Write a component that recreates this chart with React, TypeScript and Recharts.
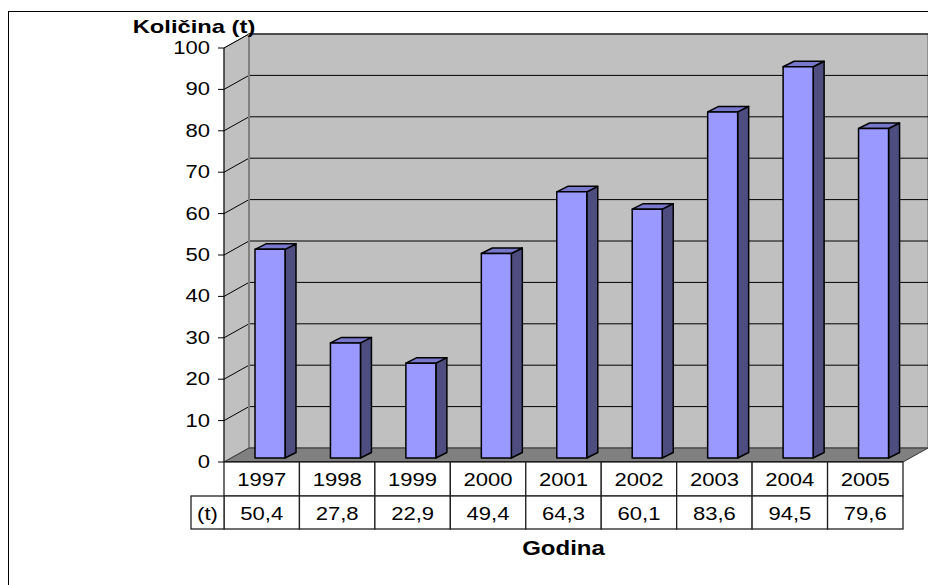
import React from 'react';
import { BarChart, Bar, XAxis, YAxis, ReferenceArea } from 'recharts';

const years = ['1997', '1998', '1999', '2000', '2001', '2002', '2003', '2004', '2005'];
const amounts = [50.4, 27.8, 22.9, 49.4, 64.3, 60.1, 83.6, 94.5, 79.6];
const yTicks = [0, 10, 20, 30, 40, 50, 60, 70, 80, 90, 100];

const data = years.map((year, i) => ({ year, amount: amounts[i] }));

const W = 928;
const H = 577;
const PLOT_W = 679;
const CELL_W = PLOT_W / years.length;
const DEPTH_X = 25;
const DEPTH_Y = -14;
const BAR_DX = 8;
const BAR_DY = -4;
const FONT = '"Liberation Sans", Arial, sans-serif';
const STRETCH = 1.26;

const fmt = (v: number) => v.toFixed(1).replace('.', ',');

// the original text is a horizontally stretched Arial
const SText = ({ x, y, anchor = 'middle', size = 17.5, bold = false, sx = STRETCH, children }: any) => (
  <text
    transform={`translate(${x},${y}) scale(${sx},1)`}
    x={0}
    y={0}
    textAnchor={anchor}
    fontFamily={FONT}
    fontSize={size}
    fontWeight={bold ? 'bold' : 'normal'}
    fill="#000"
  >
    {children}
  </text>
);

// back wall, side wall, floor and gridlines, drawn from the plot rect
const Walls = (props: any) => {
  const { x, y, width, height } = props;
  const bottom = y + height;
  return (
    <g>
      <polygon
        points={`${x},${y} ${x + DEPTH_X},${y + DEPTH_Y} ${x + DEPTH_X},${bottom + DEPTH_Y} ${x},${bottom}`}
        fill="#c0c0c0"
        stroke="#808080"
        strokeWidth={1}
      />
      <rect x={x + DEPTH_X} y={y + DEPTH_Y} width={width} height={height} fill="#c0c0c0" stroke="#808080" strokeWidth={1.5} />
      {yTicks.slice(1).map((v) => {
        const gy = bottom - (v / 100) * height;
        return (
          <g key={v}>
            <line x1={x} y1={gy} x2={x + DEPTH_X} y2={gy + DEPTH_Y} stroke="#000" strokeWidth={1} />
            <line x1={x + DEPTH_X} y1={gy + DEPTH_Y} x2={x + width + DEPTH_X} y2={gy + DEPTH_Y} stroke="#000" strokeWidth={1} />
          </g>
        );
      })}
      <line x1={x + DEPTH_X} y1={y + DEPTH_Y} x2={x + DEPTH_X} y2={bottom + DEPTH_Y} stroke="#808080" strokeWidth={2} />
      <polygon
        points={`${x},${bottom} ${x + width},${bottom} ${x + width + DEPTH_X},${bottom + DEPTH_Y} ${x + DEPTH_X},${bottom + DEPTH_Y}`}
        fill="#808080"
        stroke="#333"
        strokeWidth={1}
      />
      <line x1={x} y1={bottom} x2={x + width} y2={bottom} stroke="#000" strokeWidth={1.5} />
    </g>
  );
};

const Bar3D = (props: any) => {
  const { x, y, width, height } = props;
  if (!height) return null;
  const fx = x + BAR_DX;
  const fy = y + BAR_DY;
  const dx = 11;
  const dy = -5.5;
  return (
    <g stroke="#000" strokeWidth={1.5} strokeLinejoin="round">
      <polygon points={`${fx + width},${fy} ${fx + width + dx},${fy + dy} ${fx + width + dx},${fy + height + dy} ${fx + width},${fy + height}`} fill="#4d4d80" />
      <polygon points={`${fx},${fy} ${fx + dx},${fy + dy} ${fx + width + dx},${fy + dy} ${fx + width},${fy}`} fill="#7777cc" />
      <rect x={fx} y={fy} width={width} height={height} fill="#9999ff" />
    </g>
  );
};

const ValueTick = (props: any) => {
  const { x, y, payload } = props;
  return (
    <SText x={x - 4} y={y + 6} anchor="end">
      {payload.value}
    </SText>
  );
};

// data table under the floor
const TableTick = (props: any) => {
  const { x, y, payload, index } = props;
  const left = x - CELL_W / 2;
  const rowH = 34;
  const line = { stroke: '#222', strokeWidth: 1.3 };
  return (
    <g>
      <rect x={left} y={y} width={CELL_W} height={rowH} fill="#fff" {...line} />
      <rect x={left} y={y + rowH} width={CELL_W} height={33} fill="#fff" {...line} />
      <SText x={x} y={y + 24}>{payload.value}</SText>
      <SText x={x} y={y + 58}>{fmt(amounts[index])}</SText>
      {index === 0 && (
        <g>
          <rect x={left - 33} y={y + rowH} width={33} height={33} fill="#fff" {...line} />
          <SText x={left - 16.5} y={y + 58}>(t)</SText>
        </g>
      )}
    </g>
  );
};

export default function App() {
  return (
    <div style={{ position: 'relative', width: W, height: H, overflow: 'hidden', background: '#fff' }}>
      <div
        style={{
          position: 'absolute',
          left: 0,
          top: 3,
          width: W + 20,
          height: H + 20,
          borderTop: '1px solid #000',
          borderLeft: '1px solid #000',
        }}
      />
      <div style={{ position: 'absolute', left: 0, top: 0 }}>
        <BarChart width={W} height={H} data={data} margin={{ top: 40, right: 33, left: 156, bottom: 53 }} barSize={30}>
          <ReferenceArea y1={0} y2={100} shape={<Walls />} ifOverflow="visible" />
          <XAxis
            dataKey="year"
            height={70}
            axisLine={false}
            tickLine={false}
            tickSize={0}
            tickMargin={0}
            interval={0}
            tick={<TableTick />}
            label={{
              content: (p: any) => {
                const vb = p.viewBox;
                return (
                  <SText x={vb.x + vb.width / 2} y={vb.y + 93} size={20} bold sx={1.2}>
                    Godina
                  </SText>
                );
              },
            }}
          />
          <YAxis
            width={60}
            domain={[0, 100]}
            ticks={yTicks}
            interval={0}
            axisLine={{ stroke: '#000', strokeWidth: 1 }}
            tickLine={{ stroke: '#000', strokeWidth: 1 }}
            tickSize={6}
            tickMargin={4}
            tick={<ValueTick />}
            label={{
              content: (p: any) => {
                const vb = p.viewBox;
                return (
                  <SText x={vb.x + vb.width - 30} y={vb.y - 15} size={19} bold sx={1.25}>
                    Količina (t)
                  </SText>
                );
              },
            }}
          />
          <Bar dataKey="amount" shape={<Bar3D />} isAnimationActive={false} />
        </BarChart>
      </div>
    </div>
  );
}
